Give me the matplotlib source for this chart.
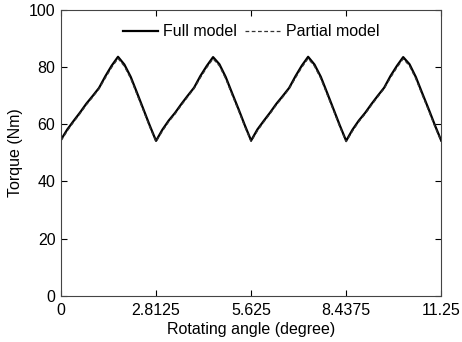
import matplotlib.pyplot as plt

plt.rcParams['font.family'] = ['Liberation Sans', 'DejaVu Sans']
plt.rcParams['font.size'] = 11.5

angle = [0, 0.1875, 0.375, 0.5625, 0.75, 0.9375, 1.125, 1.3125, 1.5, 1.6875, 1.875, 2.0625, 2.25, 2.4375, 2.625,
         2.8125, 3.0, 3.1875, 3.375, 3.5625, 3.75, 3.9375, 4.125, 4.3125, 4.5, 4.6875, 4.875, 5.0625, 5.25, 5.4375,
         5.625, 5.8125, 6.0, 6.1875, 6.375, 6.5625, 6.75, 6.9375, 7.125, 7.3125, 7.5, 7.6875, 7.875, 8.0625, 8.25,
         8.4375, 8.625, 8.8125, 9.0, 9.1875, 9.375, 9.5625, 9.75, 9.9375, 10.125, 10.3125, 10.5, 10.6875, 10.875,
         11.0625, 11.25]

full = [54.6, 58.2, 61.2, 64.1, 67.2, 69.9, 72.7, 76.8, 80.5, 83.6, 80.9, 76.6, 71.0, 65.3, 59.6,
        54.2, 58.1, 61.3, 64.0, 67.1, 70.0, 72.8, 76.9, 80.4, 83.5, 81.0, 76.5, 70.9, 65.4, 59.7,
        54.3, 58.2, 61.2, 64.1, 67.2, 69.9, 72.7, 76.8, 80.5, 83.6, 80.9, 76.6, 71.0, 65.3, 59.6,
        54.2, 58.1, 61.3, 64.0, 67.1, 70.0, 72.8, 76.9, 80.4, 83.5, 81.0, 76.5, 70.9, 65.4, 59.7,
        54.3]

partial = [54.2, 57.7, 60.8, 63.7, 66.8, 69.5, 72.4, 76.2, 79.9, 83.0, 80.3, 76.0, 70.4, 64.8, 59.1,
           53.9, 57.6, 60.9, 63.6, 66.7, 69.6, 72.5, 76.3, 79.8, 82.9, 80.4, 75.9, 70.3, 64.9, 59.2,
           54.0, 57.7, 60.8, 63.7, 66.8, 69.5, 72.4, 76.2, 79.9, 83.0, 80.3, 76.0, 70.4, 64.8, 59.1,
           53.9, 57.6, 60.9, 63.6, 66.7, 69.6, 72.5, 76.3, 79.8, 82.9, 80.4, 75.9, 70.3, 64.9, 59.2,
           54.0]

xticks = [0, 2.8125, 5.625, 8.4375, 11.25]
xticklabels = ['0', '2.8125', '5.625', '8.4375', '11.25']

fig = plt.figure(figsize=(4.62, 3.42), dpi=100)
ax = fig.add_axes([0.132, 0.135, 0.823, 0.836])

ax.plot(angle, full, '-', color='k', linewidth=1.6, label='Full model')
ax.plot(angle, partial, '--', color='#333333', linewidth=0.9, dashes=(3, 2), label='Partial model')

ax.set_xlim(0, 11.25)
ax.set_ylim(0, 100)
ax.set_xticks(xticks)
ax.set_xticklabels(xticklabels)
ax.set_yticks(range(0, 101, 20))
ax.tick_params(direction='in', top=True, right=True, length=4, width=0.8, pad=4)
ax.tick_params(axis='x', pad=5)
for s in ax.spines.values():
    s.set_linewidth(0.8)
    s.set_color('#444444')

ax.set_xlabel('Rotating angle (degree)', labelpad=3)
ax.set_ylabel('Torque (Nm)', labelpad=4)

ax.legend(loc='upper center', ncol=2, frameon=False, handlelength=2.2, columnspacing=0.5,
          handletextpad=0.35, borderaxespad=0.5, fontsize=11.5)

fig.savefig('out.png', dpi=100)
